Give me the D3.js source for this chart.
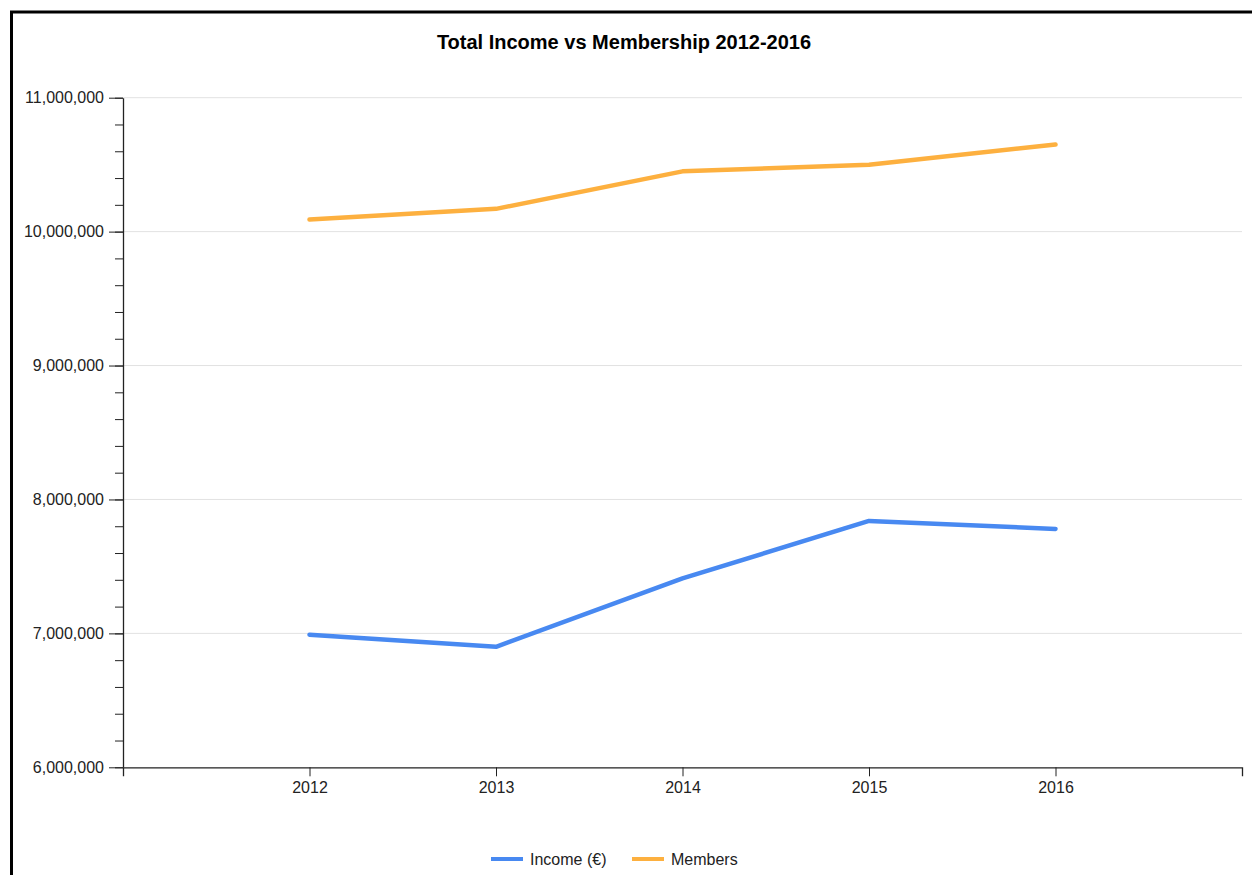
<!DOCTYPE html>
<html>
<head>
<meta charset="utf-8">
<script src="https://cdn.jsdelivr.net/npm/d3@7"></script>
<style>
  body { margin: 0; background: #fff; }
  svg { display: block; font-family: "Liberation Sans", Arial, sans-serif; }
</style>
</head>
<body>
<div id="theChart"></div>
<script>
const years = [2012, 2013, 2014, 2015, 2016]
const income = [6990000, 6900000, 7410000, 7840000, 7780000]
const members = [10090000, 10170000, 10450000, 10500000, 10650000]
const yMajorTicks = [6000000, 7000000, 8000000, 9000000, 10000000, 11000000]
const seriesNames = ["Income (€)", "Members"]
const seriesColors = ["#4889f1", "#fdb03f"]

const w = 1252
const h = 875
const plotLeft = 123, plotRight = 1242, plotTop = 97.7, plotBottom = 767.3

const svg = d3.select("#theChart")
	.append("svg")
	.attr("width", w)
	.attr("height", h)

// page frame (left + top edges visible)
svg.append("rect")
	.attr("x", 11.5).attr("y", 12)
	.attr("width", 1300).attr("height", 1000)
	.attr("fill", "none")
	.attr("stroke", "#000")
	.attr("stroke-width", 3)

svg.append("text")
	.attr("x", 624)
	.attr("y", 49)
	.attr("text-anchor", "middle")
	.style("font-size", "20px")
	.style("font-weight", "bold")
	.attr("fill", "#000")
	.text("Total Income vs Membership 2012-2016")

const x = d3.scaleLinear().domain([2011, 2017]).range([plotLeft, plotRight])
const y = d3.scaleLinear().domain([6000000, 11000000]).range([plotBottom, plotTop])

// gridlines
svg.append("g")
	.selectAll("line")
	.data(yMajorTicks.slice(1))
	.enter()
	.append("line")
	.attr("x1", plotLeft).attr("x2", plotRight)
	.attr("y1", d => y(d)).attr("y2", d => y(d))
	.attr("stroke", "#e2e2e2")
	.attr("stroke-width", 1)

// minor y ticks
svg.append("g")
	.attr("transform", `translate(${plotLeft},0)`)
	.call(d3.axisLeft(y).ticks(25).tickSize(8).tickSizeOuter(0).tickFormat(""))
	.call(g => g.select(".domain").remove())
	.selectAll("line").attr("stroke", "#222")

const yAxis = svg.append("g")
	.attr("transform", `translate(${plotLeft},0)`)
	.call(d3.axisLeft(y).tickValues(yMajorTicks).tickSize(14).tickSizeOuter(0).tickPadding(5).tickFormat(d3.format(",")))
yAxis.selectAll("text").style("font-size", "16px").attr("fill", "#222")
yAxis.selectAll("line, path").attr("stroke", "#222")
yAxis.select(".domain").attr("stroke-width", 1.3)

const xAxis = svg.append("g")
	.attr("transform", `translate(0,${plotBottom})`)
	.call(d3.axisBottom(x).tickValues(years).tickSize(9).tickSizeOuter(9).tickPadding(5).tickFormat(d3.format("d")))
xAxis.selectAll("text").style("font-size", "16px").attr("fill", "#222")
xAxis.selectAll("line, path").attr("stroke", "#222")
xAxis.select(".domain").attr("stroke-width", 1.3)

const line = d3.line()
	.x((d, i) => x(years[i]))
	.y(d => y(d))

;[income, members].forEach((vals, k) => {
	svg.append("path")
		.datum(vals)
		.attr("d", line)
		.attr("fill", "none")
		.attr("stroke", seriesColors[k])
		.attr("stroke-width", 4.5)
		.attr("stroke-linecap", "round")
		.attr("stroke-linejoin", "round")
})

// legend
const legendX = [491, 632]
const legend = svg.append("g")
seriesNames.forEach((name, i) => {
	legend.append("line")
		.attr("x1", legendX[i]).attr("x2", legendX[i] + 32)
		.attr("y1", 859).attr("y2", 859)
		.attr("stroke", seriesColors[i])
		.attr("stroke-width", 4)
	legend.append("text")
		.attr("x", legendX[i] + 39)
		.attr("y", 865)
		.style("font-size", "16px")
		.attr("fill", "#222")
		.text(name)
})
</script>
</body>
</html>
